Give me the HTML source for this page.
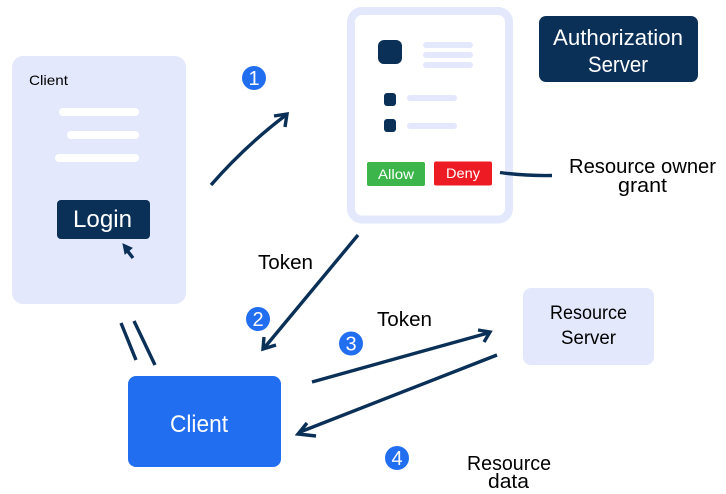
<!DOCTYPE html>
<html>
<head>
<meta charset="utf-8">
<style>
html,body{margin:0;padding:0;background:#fff;width:726px;height:494px;overflow:hidden}
svg{display:block}
text{font-family:"Liberation Sans",sans-serif}
.a{fill:none;stroke:#0b3058;stroke-width:3.400}
</style>
</head>
<body>
<svg width="726" height="494" viewBox="0 0 726 494" xmlns="http://www.w3.org/2000/svg">
<rect width="726" height="494" fill="#fff"/>
<!-- Client panel -->
<rect x="12" y="56" width="174" height="248" rx="11" fill="#e3e8fd"/>
<text x="29" y="85" font-size="14" textLength="39" lengthAdjust="spacingAndGlyphs">Client</text>
<rect x="59" y="108" width="80" height="8" rx="4" fill="#fff"/>
<rect x="67" y="131" width="72" height="8" rx="4" fill="#fff"/>
<rect x="55" y="154" width="84" height="8" rx="4" fill="#fff"/>
<rect x="57" y="200" width="93" height="39" rx="4" fill="#0b3058"/>
<text x="73" y="227" font-size="24" fill="#fff" textLength="59" lengthAdjust="spacingAndGlyphs">Login</text>
<path d="M133 258L126 249" class="a"/>
<path d="M123 244L132 248L125 254Z" fill="#0b3058" stroke="#0b3058" stroke-width="1"/>
<!-- Arrow 1 -->
<path d="M211 185Q245 146 286 115" class="a"/>
<path d="M274 116L287 114L285 127" class="a"/>
<circle cx="254" cy="78" r="12" fill="#226ef0"/>
<text x="254" y="85" font-size="20" fill="#fff" text-anchor="middle">1</text>
<!-- Auth card -->
<rect x="351" y="11" width="158" height="208.500" rx="11" fill="#fff" stroke="#e3e8fd" stroke-width="8"/>
<rect x="378" y="40" width="24" height="24" rx="6" fill="#0b3058"/>
<rect x="423" y="42" width="50" height="6" rx="3" fill="#e3e8fd"/>
<rect x="423" y="52" width="50" height="6" rx="3" fill="#e3e8fd"/>
<rect x="423" y="62" width="50" height="6" rx="3" fill="#e3e8fd"/>
<rect x="384" y="93" width="12" height="13" rx="3" fill="#0b3058"/>
<rect x="384" y="119" width="12" height="13" rx="3" fill="#0b3058"/>
<rect x="407" y="95" width="50" height="6" rx="3" fill="#e3e8fd"/>
<rect x="407" y="123" width="50" height="6" rx="3" fill="#e3e8fd"/>
<rect x="367" y="162" width="58" height="24" rx="2" fill="#3cb54a"/>
<rect x="434" y="161.500" width="58" height="24" rx="2" fill="#ed1c24"/>
<text x="378" y="179" font-size="14" fill="#fff" textLength="36" lengthAdjust="spacingAndGlyphs">Allow</text>
<text x="446" y="178" font-size="14" fill="#fff" textLength="34" lengthAdjust="spacingAndGlyphs">Deny</text>
<path d="M500 172.500Q525 176 552 175.500" class="a"/>
<!-- Auth server -->
<rect x="539" y="16" width="159" height="66" rx="7" fill="#0b3058"/>
<text x="553" y="45" font-size="22" fill="#fff" textLength="130" lengthAdjust="spacingAndGlyphs">Authorization</text>
<text x="588" y="72" font-size="22" fill="#fff" textLength="60" lengthAdjust="spacingAndGlyphs">Server</text>
<text x="569" y="173" font-size="20" textLength="147" lengthAdjust="spacingAndGlyphs">Resource owner</text>
<text x="618" y="192" font-size="20" textLength="49" lengthAdjust="spacingAndGlyphs">grant</text>
<!-- Arrow 2 -->
<text x="258" y="269" font-size="20" textLength="55" lengthAdjust="spacingAndGlyphs">Token</text>
<path d="M358 235L265 347" class="a"/>
<path d="M264 337L263 349L276 345" class="a"/>
<circle cx="258" cy="319" r="12" fill="#226ef0"/>
<text x="258" y="326" font-size="20" fill="#fff" text-anchor="middle">2</text>
<!-- Double lines -->
<path d="M121 323L136 360M134 321L155 365" class="a"/>
<!-- Client blue -->
<rect x="128" y="376" width="153" height="91" rx="8" fill="#226ef0"/>
<text x="170" y="432" font-size="24" fill="#fff" textLength="58" lengthAdjust="spacingAndGlyphs">Client</text>
<!-- Arrow 3 -->
<text x="377" y="326" font-size="20" textLength="55" lengthAdjust="spacingAndGlyphs">Token</text>
<path d="M312 382L488 333" class="a"/>
<path d="M478 330L490 332L484 342" class="a"/>
<circle cx="351" cy="343.500" r="12" fill="#226ef0"/>
<text x="351" y="350.500" font-size="20" fill="#fff" text-anchor="middle">3</text>
<!-- Arrow 4 -->
<path d="M497 355L300 432" class="a"/>
<path d="M307 423L298 434L316 436" class="a"/>
<circle cx="397" cy="458" r="12" fill="#226ef0"/>
<text x="397" y="465" font-size="20" fill="#fff" text-anchor="middle">4</text>
<!-- Resource server -->
<rect x="523" y="288" width="131" height="77" rx="8" fill="#e3e8fd"/>
<text x="550" y="319" font-size="19" textLength="77" lengthAdjust="spacingAndGlyphs">Resource</text>
<text x="561" y="344" font-size="19" textLength="55" lengthAdjust="spacingAndGlyphs">Server</text>
<text x="467" y="470" font-size="20" textLength="84" lengthAdjust="spacingAndGlyphs">Resource</text>
<text x="488" y="488" font-size="20" textLength="41" lengthAdjust="spacingAndGlyphs">data</text>
</svg>
</body>
</html>
